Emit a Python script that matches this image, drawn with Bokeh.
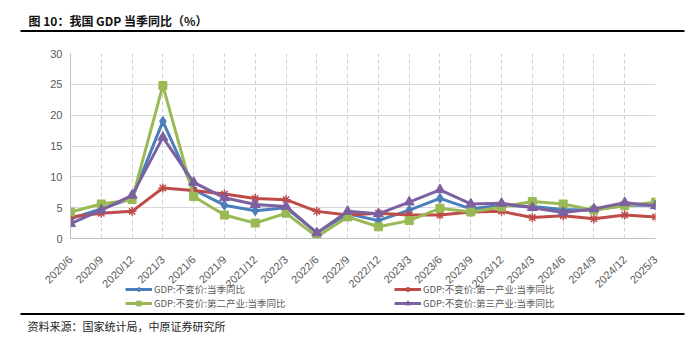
from bokeh.plotting import figure
from bokeh.layouts import column
from bokeh.models import (Range1d, Label, Legend, LegendItem, FixedTicker,
                          ColumnDataSource)
from bokeh.embed import file_html
from bokeh.resources import INLINE
import math

categories = ["2020/6", "2020/9", "2020/12", "2021/3", "2021/6", "2021/9", "2021/12",
              "2022/3", "2022/6", "2022/9", "2022/12", "2023/3", "2023/6", "2023/9",
              "2023/12", "2024/3", "2024/6", "2024/9", "2024/12", "2025/3"]
gdp_total = [3.2, 4.8, 6.5, 19.0, 7.9, 5.4, 4.5, 5.0, 0.9, 4.0, 2.9, 4.6, 6.5, 4.8,
             5.4, 5.2, 4.7, 4.6, 5.4, 5.4]
gdp_primary = [3.5, 4.1, 4.4, 8.2, 7.8, 7.2, 6.5, 6.3, 4.4, 3.8, 4.1, 3.8, 3.8, 4.3,
               4.4, 3.4, 3.7, 3.2, 3.8, 3.5]
gdp_secondary = [4.3, 5.6, 6.3, 24.8, 6.8, 3.8, 2.5, 4.1, 0.3, 3.5, 1.9, 2.9, 4.9, 4.3,
                 5.1, 6.0, 5.6, 4.6, 5.3, 5.9]
gdp_tertiary = [2.4, 4.6, 7.0, 16.4, 9.1, 6.6, 5.5, 5.2, 0.9, 4.4, 4.0, 5.9, 7.9, 5.6,
                5.7, 5.0, 4.2, 4.8, 5.8, 5.3]
series_names = ["GDP:不变价:当季同比", "GDP:不变价:第一产业:当季同比",
                "GDP:不变价:第二产业:当季同比", "GDP:不变价:第三产业:当季同比"]
y_ticks = [0, 5, 10, 15, 20, 25, 30]

title_text = "图 10：我国 GDP 当季同比（%）"
source_text = "资料来源：国家统计局，中原证券研究所"

W = 700
TOP_H = 40
FL, FR = 70, 655                     # frame left/right in canvas px
FT, FB = 53 - TOP_H, 238 - TOP_H     # frame top/bottom inside main figure
MAIN_BORDER_B = 70
MAIN_H = FB + MAIN_BORDER_B          # main figure extends below, overlapped
BOT_TOP = 281                        # canvas y where bottom strip starts
BOT_H = 343 - BOT_TOP
OVERLAP = (TOP_H + MAIN_H) - BOT_TOP

colors = ["#4A7EBB", "#BE4B48", "#98B954", "#7D60A0"]
keys = ["total", "primary", "secondary", "tertiary"]
markers = ["diamond", "asterisk", "square", "triangle"]
msizes = [10, 9, 8, 10]


def blank_fig(h, fill_alpha=1.0):
    f = figure(width=W, height=h, output_backend="svg", toolbar_location=None,
               x_range=Range1d(0, W), y_range=Range1d(h, 0),
               x_axis_type=None, y_axis_type=None, frame_align=False,
               min_border=0, background_fill_color="white",
               border_fill_color="white", background_fill_alpha=fill_alpha,
               border_fill_alpha=fill_alpha)
    f.grid.visible = False
    f.outline_line_color = None
    return f


def add_series(fig, source, xk, yk, col, mk, ms):
    ln = fig.line(xk, yk, source=source, line_color=col, line_width=3)
    if mk == "asterisk":
        sc = fig.scatter(xk, yk, source=source, marker=mk, size=ms,
                         line_color=col, line_width=1.5)
    else:
        sc = fig.scatter(xk, yk, source=source, marker=mk, size=ms,
                         fill_color=col, line_color=col)
    return ln, sc


# ---------- top: title ----------
top = blank_fig(TOP_H)
top.add_layout(Label(x=28, y=20, text=title_text, text_font="Noto Sans CJK SC",
                     text_font_style="bold", text_font_size="12px",
                     text_color="#111111", text_baseline="middle",
                     text_align="left"))
top.line(x=[20, 684], y=[30.5, 30.5], line_color="black", line_width=2)

# ---------- main chart ----------
idx = list(range(len(categories)))
src = ColumnDataSource(dict(x=idx, total=gdp_total, primary=gdp_primary,
                            secondary=gdp_secondary, tertiary=gdp_tertiary))

p = figure(width=W, height=MAIN_H, output_backend="svg", toolbar_location=None,
           x_range=Range1d(0, len(categories) - 1), y_range=Range1d(0, 30),
           frame_align=False,
           min_border_left=FL, min_border_right=W - FR, min_border_top=FT,
           min_border_bottom=MAIN_BORDER_B, background_fill_color="white",
           border_fill_color="white")
p.outline_line_color = None

p.yaxis.ticker = FixedTicker(ticks=y_ticks)
p.yaxis.axis_line_color = "#BFBFBF"
p.yaxis.major_tick_line_color = None
p.yaxis.major_tick_out = 0
p.yaxis.minor_tick_line_color = None
p.yaxis.major_label_text_font = "Liberation Sans"
p.yaxis.major_label_text_font_size = "11px"
p.yaxis.major_label_text_color = "#595959"
p.yaxis.major_label_standoff = 8

p.xaxis.ticker = FixedTicker(ticks=idx)
p.xaxis.major_label_overrides = {i: c for i, c in zip(idx, categories)}
p.xaxis.major_label_orientation = math.pi / 4
p.xaxis.axis_line_color = "#BFBFBF"
p.xaxis.major_tick_line_color = None
p.xaxis.major_tick_out = 0
p.xaxis.major_tick_in = 0
p.xaxis.minor_tick_line_color = None
p.xaxis.minor_tick_out = 0
p.xaxis.major_label_text_font = "Liberation Sans"
p.xaxis.major_label_text_font_size = "11px"
p.xaxis.major_label_text_color = "#595959"
p.xaxis.major_label_standoff = 19

p.ygrid.grid_line_color = "#D9D9D9"
p.ygrid.grid_line_width = 1
p.xgrid.grid_line_color = "#D0D0D0"
p.xgrid.grid_line_dash = "4 3"
p.xgrid.grid_line_width = 1

for key, col, mk, ms in zip(keys, colors, markers, msizes):
    add_series(p, src, "x", key, col, mk, ms)

# ---------- bottom: legend + source (transparent, pulled up over main) ----------
bot = blank_fig(BOT_H, fill_alpha=0.0)
bot.margin = (-OVERLAP, 0, 0, 0)
proxy = ColumnDataSource(dict(x=[float("nan")], y=[float("nan")]))
items = []
for col, mk, ms, name in zip(colors, markers, msizes, series_names):
    ln, sc = add_series(bot, proxy, "x", "y", col, mk, ms)
    items.append(LegendItem(label=name, renderers=[ln, sc]))

# column-major fill: col 1 = total, secondary ; col 2 = primary, tertiary
legend = Legend(items=[items[0], items[2], items[1], items[3]], ncols=2,
                location=(125, BOT_H - 29),
                label_text_font="Noto Sans CJK SC", label_text_font_size="9.5px",
                label_text_color="#595959", glyph_width=27, glyph_height=12,
                label_height=12, label_width=240, label_standoff=2, spacing=0,
                padding=0, margin=0, border_line_color=None,
                background_fill_alpha=0)
bot.add_layout(legend)
bot.line(x=[20, 684], y=[313.5 - BOT_TOP, 313.5 - BOT_TOP], line_color="black",
         line_width=2)
bot.add_layout(Label(x=27, y=325 - BOT_TOP, text=source_text,
                     text_font="Noto Sans CJK SC", text_font_size="11px",
                     text_color="#262626", text_baseline="middle",
                     text_align="left"))

layout = column(top, p, bot, spacing=0)
open("out.html", "w").write(file_html(layout, INLINE))
